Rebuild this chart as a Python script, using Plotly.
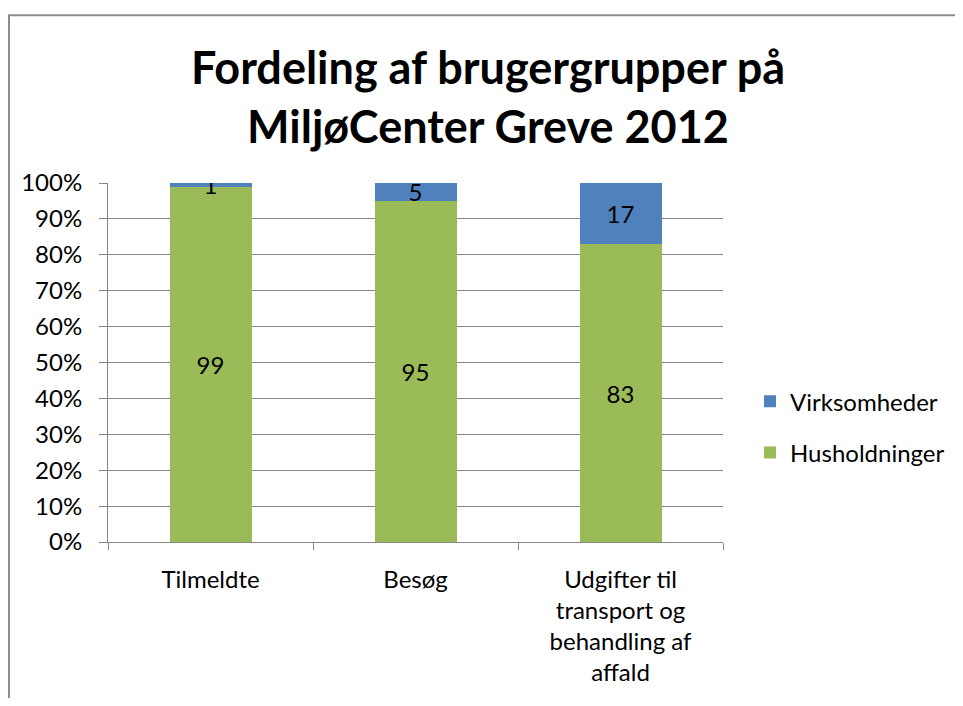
import plotly.graph_objects as go

categories = ["Tilmeldte", "Besøg", "Udgifter til<br>transport og<br>behandling af<br>affald"]
husholdninger = [99, 95, 83]
virksomheder = [1, 5, 17]
y_ticks = [0, 10, 20, 30, 40, 50, 60, 70, 80, 90, 100]
y_ticktext = [f"{v}%" for v in y_ticks]

# page body has an 8px margin, so figure coords = viewport coords - 8
OFF = 8
W, H = 955, 690
L, R, T, B = 100, 240, 175, 149
FONT = "Lato"
FS = 24
GRID = "#868686"

fig = go.Figure()
fig.add_trace(go.Bar(
    x=categories, y=husholdninger, name="Husholdninger",
    marker=dict(color="#9BBB59", line=dict(width=0)),
    text=[str(v) for v in husholdninger], textposition="inside",
    insidetextanchor="middle", textangle=0, constraintext="none",
    textfont=dict(family=FONT, size=FS, color="black"),
    legendgroup="h", legendrank=2,
))
fig.add_trace(go.Bar(
    x=categories, y=virksomheder, name="Virksomheder",
    marker=dict(color="#4F81BD", line=dict(width=0)),
    text=[str(v) for v in virksomheder], textposition="inside",
    insidetextanchor="middle", textangle=0, constraintext="none",
    textfont=dict(family=FONT, size=FS, color="black"),
    legendgroup="v", legendrank=1,
))

pw = W - L - R
ph = H - T - B
def px_x(p):
    return (p - OFF - L) / pw
def px_y(p):
    return (H - B - (p - OFF)) / ph

fig.update_layout(
    width=W, height=H,
    margin=dict(l=L, r=R, t=T, b=B, pad=0),
    paper_bgcolor="white", plot_bgcolor="white",
    barmode="stack", bargap=0.6,
    font=dict(family=FONT, size=FS, color="black"),
    uniformtext=dict(minsize=FS, mode="show"),
    title=dict(
        text="<b>Fordeling af brugergrupper på<br>MiljøCenter Greve 2012</b>",
        font=dict(family=FONT, size=45, color="black"),
        x=480 / W, xanchor="center", xref="container",
        y=1 - 76 / H, yanchor="middle", yref="container",
    ),
    legend=dict(
        x=px_x(750), xanchor="left", y=px_y(432), yanchor="middle",
        font=dict(family=FONT, size=FS, color="black"),
        traceorder="grouped", tracegroupgap=17,
        bgcolor="rgba(0,0,0,0)", itemwidth=30,
    ),
    xaxis=dict(
        showgrid=False, showline=True, linecolor=GRID, linewidth=1,
        ticks="outside", tickson="boundaries", ticklen=7, tickcolor=GRID,
        ticklabelstandoff=16,
        tickfont=dict(family=FONT, size=FS, color="black"),
    ),
    yaxis=dict(
        range=[0, 100], tickvals=y_ticks, ticktext=y_ticktext,
        showgrid=True, gridcolor=GRID, gridwidth=1,
        showline=True, linecolor=GRID, linewidth=1,
        ticks="outside", ticklen=8, tickcolor=GRID,
        ticklabelstandoff=12, zeroline=False,
        tickfont=dict(family=FONT, size=FS, color="black"),
    ),
    shapes=[dict(
        type="rect", xref="paper", yref="paper",
        x0=px_x(9), x1=px_x(1000), y0=px_y(760), y1=px_y(12),
        line=dict(color="#8C8C8C", width=2), fillcolor="rgba(0,0,0,0)", layer="below",
    )],
)

fig.write_html("out.html")
